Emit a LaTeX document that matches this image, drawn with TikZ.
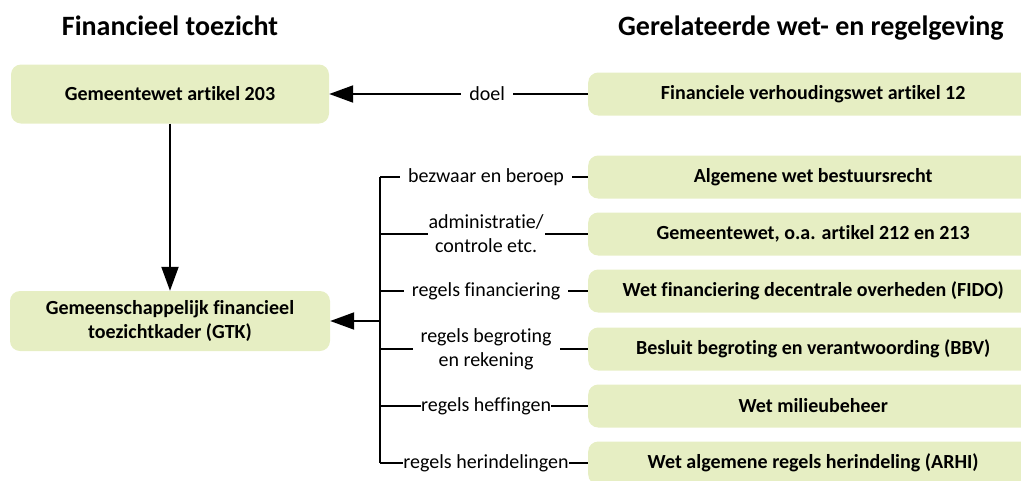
\documentclass[tikz,border=0pt]{standalone}
\usepackage{fontspec}
\setmainfont{Carlito}[Ligatures={NoCommon}]
\usetikzlibrary{arrows.meta}
\definecolor{boxgreen}{RGB}{230,238,195}
\tikzset{
  law/.style={fill=boxgreen, rounded corners=10pt, align=center, font=\fontsize{20}{24}\selectfont\bfseries, inner sep=0pt},
  rbox/.style={law, anchor=west, minimum width=450pt, minimum height=43pt},
  lbl/.style={fill=white, align=center, font=\fontsize{20}{24}\selectfont, inner xsep=8pt, inner ysep=1pt},
  conn/.style={line width=2pt},
  arr/.style={conn, -{Triangle[length=24pt,width=17pt]}},
  title/.style={font=\fontsize{28}{32}\selectfont\bfseries, anchor=base}
}
\begin{document}
\begin{tikzpicture}[x=1pt,y=-1pt]
\useasboundingbox (0,0) rectangle (1021,480);
\clip (0,0) rectangle (1021,480);
\node[title] (t1) at (170,35) {Financieel toezicht};
\node[title] (t2) at (811,35) {Gerelateerde wet- en regelgeving};

\node[law, minimum width=318pt, minimum height=59pt] (g1) at (170,94) {Gemeentewet artikel 203};
\node[law, minimum width=320pt, minimum height=60pt] (gtk) at (170,321) {Gemeenschappelijk financieel\\toezichtkader (GTK)};

\node[rbox] (r1) at (588,94) {Financiele verhoudingswet artikel 12};
\node[rbox] (r2) at (588,177) {Algemene wet bestuursrecht};
\node[rbox] (r3) at (588,234) {Gemeentewet, o.a. artikel 212 en 213};
\node[rbox] (r4) at (588,291) {Wet financiering decentrale overheden (FIDO)};
\node[rbox] (r5) at (588,349) {Besluit begroting en verantwoording (BBV)};
\node[rbox] (r6) at (588,406) {Wet milieubeheer};
\node[rbox] (r7) at (588,463) {Wet algemene regels herindeling (ARHI)};

\draw[arr] (g1.south) -- (gtk.north);
\draw[arr] (r1.west) -- node[lbl, pos=0.39] (ldoel) {doel} (g1.east);

\coordinate (b2) at (380,177);
\coordinate (b3) at (380,234);
\coordinate (b4) at (380,291);
\coordinate (b5) at (380,349);
\coordinate (b6) at (380,406);
\coordinate (b7) at (380,463);
\coordinate (bm) at (380,321);

\draw[conn] (b2) -- (b7);
\draw[arr] (bm) -- (gtk.east);
\draw[conn] (b2) -- node[lbl, pos=0.51] (l2) {bezwaar en beroep} (r2.west);
\draw[conn] (b3) -- node[lbl, pos=0.51, inner xsep=1pt] (l3) {administratie/\\controle etc.} (r3.west);
\draw[conn] (b4) -- node[lbl, pos=0.51] (l4) {regels financiering} (r4.west);
\draw[conn] (b5) -- node[lbl, pos=0.51] (l5) {regels begroting\\en rekening} (r5.west);
\draw[conn] (b6) -- node[lbl, pos=0.51, inner xsep=0pt] (l6) {regels heffingen} (r6.west);
\draw[conn] (b7) -- node[lbl, pos=0.51, inner xsep=0pt] (l7) {regels herindelingen} (r7.west);
\end{tikzpicture}
\end{document}
